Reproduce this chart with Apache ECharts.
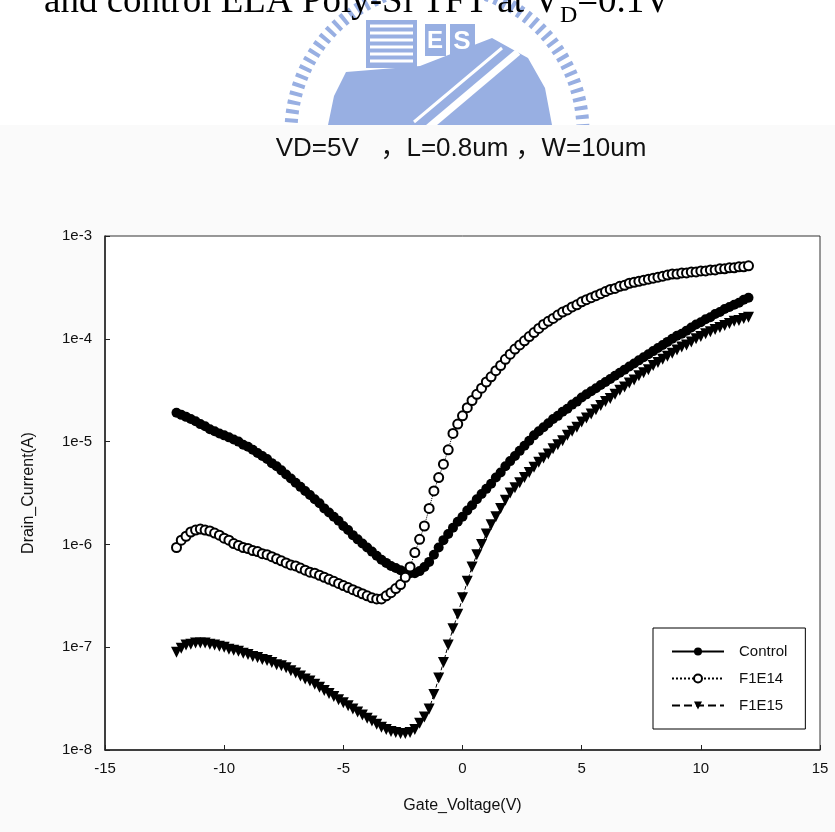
<!DOCTYPE html>
<html>
<head>
<meta charset="utf-8">
<script src="https://cdn.jsdelivr.net/npm/echarts@6.0.0/dist/echarts.min.js"></script>
<style>
  html, body { margin: 0; padding: 0; background: #fff; }
  #chart { width: 835px; height: 832px; }
</style>
</head>
<body>
<div id="chart"></div>
<script>
// gate voltage sweep (V)
var gateV = [-12,-11.8,-11.6,-11.4,-11.2,-11,-10.8,-10.6,-10.4,-10.2,
  -10,-9.8,-9.6,-9.4,-9.2,-9,-8.8,-8.6,-8.4,-8.2,
  -8,-7.8,-7.6,-7.4,-7.2,-7,-6.8,-6.6,-6.4,-6.2,
  -6,-5.8,-5.6,-5.4,-5.2,-5,-4.8,-4.6,-4.4,-4.2,
  -4,-3.8,-3.6,-3.4,-3.2,-3,-2.8,-2.6,-2.4,-2.2,
  -2,-1.8,-1.6,-1.4,-1.2,-1,-0.8,-0.6,-0.4,-0.2,
  0,0.2,0.4,0.6,0.8,1,1.2,1.4,1.6,1.8,
  2,2.2,2.4,2.6,2.8,3,3.2,3.4,3.6,3.8,
  4,4.2,4.4,4.6,4.8,5,5.2,5.4,5.6,5.8,
  6,6.2,6.4,6.6,6.8,7,7.2,7.4,7.6,7.8,
  8,8.2,8.4,8.6,8.8,9,9.2,9.4,9.6,9.8,
  10,10.2,10.4,10.6,10.8,11,11.2,11.4,11.6,11.8,
  12];

// drain current (A)
var control = [1.91e-5,1.82e-5,1.74e-5,1.66e-5,1.58e-5,1.48e-5,1.41e-5,1.32e-5,1.26e-5,1.20e-5,
  1.15e-5,1.10e-5,1.05e-5,1.00e-5,9.33e-6,8.91e-6,8.32e-6,7.76e-6,7.24e-6,6.76e-6,
  6.17e-6,5.75e-6,5.25e-6,4.79e-6,4.37e-6,3.98e-6,3.63e-6,3.31e-6,3.02e-6,2.75e-6,
  2.51e-6,2.24e-6,2.04e-6,1.86e-6,1.70e-6,1.51e-6,1.38e-6,1.23e-6,1.12e-6,1.02e-6,
  9.33e-7,8.51e-7,7.76e-7,7.08e-7,6.61e-7,6.17e-7,5.89e-7,5.62e-7,5.37e-7,5.25e-7,
  5.25e-7,5.50e-7,6.03e-7,6.76e-7,7.94e-7,9.33e-7,1.10e-6,1.26e-6,1.45e-6,1.66e-6,
  1.86e-6,2.14e-6,2.40e-6,2.75e-6,3.09e-6,3.47e-6,3.89e-6,4.47e-6,5.01e-6,5.75e-6,
  6.46e-6,7.24e-6,8.13e-6,9.12e-6,1.02e-5,1.15e-5,1.26e-5,1.38e-5,1.51e-5,1.66e-5,
  1.78e-5,1.95e-5,2.09e-5,2.29e-5,2.45e-5,2.69e-5,2.88e-5,3.09e-5,3.31e-5,3.55e-5,
  3.80e-5,4.07e-5,4.37e-5,4.68e-5,5.01e-5,5.37e-5,5.75e-5,6.17e-5,6.61e-5,7.08e-5,
  7.59e-5,8.13e-5,8.71e-5,9.33e-5,1.00e-4,1.07e-4,1.12e-4,1.20e-4,1.29e-4,1.38e-4,
  1.45e-4,1.55e-4,1.62e-4,1.74e-4,1.82e-4,1.95e-4,2.04e-4,2.14e-4,2.24e-4,2.40e-4,
  2.51e-4];

var f1e14 = [9.33e-7,1.10e-6,1.20e-6,1.32e-6,1.38e-6,1.41e-6,1.38e-6,1.35e-6,1.29e-6,1.23e-6,
  1.15e-6,1.10e-6,1.02e-6,9.77e-7,9.33e-7,9.12e-7,8.71e-7,8.51e-7,8.13e-7,7.94e-7,
  7.59e-7,7.24e-7,6.92e-7,6.61e-7,6.31e-7,6.17e-7,5.89e-7,5.62e-7,5.37e-7,5.25e-7,
  5.01e-7,4.79e-7,4.57e-7,4.37e-7,4.17e-7,3.98e-7,3.80e-7,3.63e-7,3.47e-7,3.31e-7,
  3.16e-7,3.02e-7,2.95e-7,2.95e-7,3.16e-7,3.39e-7,3.72e-7,4.07e-7,4.79e-7,6.03e-7,
  8.32e-7,1.12e-6,1.51e-6,2.24e-6,3.31e-6,4.47e-6,6.03e-6,8.32e-6,1.20e-5,1.48e-5,
  1.78e-5,2.14e-5,2.51e-5,2.88e-5,3.31e-5,3.80e-5,4.27e-5,4.90e-5,5.50e-5,6.31e-5,
  7.08e-5,7.94e-5,8.71e-5,9.55e-5,1.05e-4,1.15e-4,1.26e-4,1.38e-4,1.48e-4,1.58e-4,
  1.70e-4,1.82e-4,1.91e-4,2.04e-4,2.14e-4,2.29e-4,2.40e-4,2.51e-4,2.63e-4,2.75e-4,
  2.88e-4,3.02e-4,3.09e-4,3.24e-4,3.31e-4,3.47e-4,3.55e-4,3.63e-4,3.72e-4,3.80e-4,
  3.89e-4,3.98e-4,4.07e-4,4.17e-4,4.27e-4,4.27e-4,4.37e-4,4.37e-4,4.47e-4,4.47e-4,
  4.57e-4,4.57e-4,4.68e-4,4.68e-4,4.79e-4,4.79e-4,4.90e-4,4.90e-4,5.01e-4,5.01e-4,
  5.13e-4];

var f1e15 = [8.91e-8,9.77e-8,1.05e-7,1.07e-7,1.10e-7,1.10e-7,1.10e-7,1.07e-7,1.05e-7,1.02e-7,
  1.00e-7,9.55e-8,9.33e-8,9.12e-8,8.71e-8,8.51e-8,8.13e-8,7.94e-8,7.59e-8,7.41e-8,
  7.08e-8,6.76e-8,6.61e-8,6.31e-8,5.89e-8,5.62e-8,5.25e-8,4.90e-8,4.68e-8,4.37e-8,
  4.07e-8,3.80e-8,3.55e-8,3.31e-8,3.09e-8,2.88e-8,2.69e-8,2.51e-8,2.34e-8,2.19e-8,
  2.04e-8,1.91e-8,1.78e-8,1.66e-8,1.58e-8,1.51e-8,1.48e-8,1.45e-8,1.45e-8,1.48e-8,
  1.58e-8,1.82e-8,2.09e-8,2.51e-8,3.47e-8,5.01e-8,7.08e-8,1.05e-7,1.51e-7,2.09e-7,
  3.02e-7,4.37e-7,6.03e-7,7.94e-7,1.00e-6,1.26e-6,1.55e-6,1.86e-6,2.24e-6,2.69e-6,
  3.16e-6,3.55e-6,3.98e-6,4.47e-6,5.01e-6,5.62e-6,6.31e-6,6.92e-6,7.59e-6,8.51e-6,
  9.33e-6,1.02e-5,1.15e-5,1.26e-5,1.38e-5,1.55e-5,1.70e-5,1.86e-5,2.04e-5,2.24e-5,
  2.45e-5,2.63e-5,2.88e-5,3.16e-5,3.39e-5,3.72e-5,3.98e-5,4.37e-5,4.68e-5,5.01e-5,
  5.50e-5,5.89e-5,6.31e-5,6.76e-5,7.24e-5,7.76e-5,8.32e-5,8.71e-5,9.33e-5,1.00e-4,
  1.05e-4,1.12e-4,1.17e-4,1.23e-4,1.29e-4,1.35e-4,1.41e-4,1.48e-4,1.51e-4,1.58e-4,
  1.62e-4];

var seriesNames = ['Control', 'F1E14', 'F1E15'];
var xTicks = { min: -15, max: 15, step: 5 };

(function() {
  var ink = '#111';
  var logoBlue = '#98afe2';
  var sans = '"Liberation Sans", Arial, "Noto Sans CJK SC", sans-serif';
  var serif = '"Liberation Serif", "Times New Roman", serif';

  function pairs(ys) {
    return gateV.map(function(v, i) { return [v, ys[i]]; });
  }

  // header line, subscript placed after measuring
  var ctx = document.createElement('canvas').getContext('2d');
  var head1 = 'and control ELA Poly-Si TFT at V';
  ctx.font = '37px ' + serif;
  var w1 = ctx.measureText(head1).width;
  ctx.font = '24px ' + serif;
  var w2 = ctx.measureText('D').width;
  var headX = 44;

  var logo = [
    { type: 'circle', z: -30, shape: { cx: 437, cy: 132, r: 146 },
      style: { fill: 'none', stroke: logoBlue, lineWidth: 13, lineDash: [4, 5] } },
    { type: 'polygon', z: -29, shape: { points: [[328,125],[334,96],[346,72],[420,66],[492,38],[528,58],[545,88],[552,125]] },
      style: { fill: logoBlue } },
    { type: 'rect', z: -28, shape: { x: 366, y: 20, width: 51, height: 48 }, style: { fill: logoBlue } },
    { type: 'rect', z: -28, shape: { x: 425, y: 24, width: 21, height: 32 }, style: { fill: logoBlue } },
    { type: 'rect', z: -28, shape: { x: 450, y: 24, width: 25, height: 34 }, style: { fill: logoBlue } },
    { type: 'text', z: -27, style: { text: 'E', x: 435, y: 41, fill: '#fff', font: 'bold 24px ' + sans, align: 'center', verticalAlign: 'middle' } },
    { type: 'text', z: -27, style: { text: 'S', x: 462, y: 42, fill: '#fff', font: 'bold 26px ' + sans, align: 'center', verticalAlign: 'middle' } },
    { type: 'line', z: -27, shape: { x1: 518, y1: 52, x2: 428, y2: 128 }, style: { stroke: '#fff', lineWidth: 7 } },
    { type: 'line', z: -27, shape: { x1: 502, y1: 48, x2: 414, y2: 122 }, style: { stroke: '#fff', lineWidth: 3 } }
  ];
  [26, 33, 40, 47, 54, 61].forEach(function(y) {
    logo.push({ type: 'line', z: -27, shape: { x1: 370, y1: y, x2: 413, y2: y }, style: { stroke: '#fff', lineWidth: 3 } });
  });

  var chart = echarts.init(document.getElementById('chart'), null, { renderer: 'canvas' });
  chart.setOption({
    animation: false,
    backgroundColor: '#fff',
    graphic: logo.concat([
      { type: 'rect', z: -10, shape: { x: 0, y: 125, width: 835, height: 707 }, style: { fill: '#fafafa' } },
      { type: 'text', z: 5, style: { text: head1, x: headX, y: 2, fill: '#000', font: '37px ' + serif, verticalAlign: 'middle' } },
      { type: 'text', z: 5, style: { text: 'D', x: headX + w1, y: 16, fill: '#000', font: '24px ' + serif, verticalAlign: 'middle' } },
      { type: 'text', z: 5, style: { text: '=0.1V', x: headX + w1 + w2, y: 2, fill: '#000', font: '37px ' + serif, verticalAlign: 'middle' } },
      { type: 'text', z: 5, style: { text: 'VD=5V   \uff0cL=0.8um \uff0cW=10um', x: 461, y: 149, fill: ink, font: '26px ' + sans, align: 'center', verticalAlign: 'middle' } }
    ]),
    grid: {
      left: 105, right: 15, top: 236, bottom: 82,
      show: true, backgroundColor: '#fff', borderColor: '#333', borderWidth: 1
    },
    legend: {
      data: seriesNames,
      orient: 'vertical',
      left: 653, top: 628,
      backgroundColor: '#fff',
      borderColor: '#000', borderWidth: 1,
      padding: [16, 18, 16, 18],
      itemWidth: 52, itemHeight: 10, itemGap: 12,
      textStyle: { fontSize: 15, color: ink, fontFamily: sans, padding: [0, 0, 0, 10] }
    },
    xAxis: {
      type: 'value',
      min: xTicks.min, max: xTicks.max, interval: xTicks.step,
      name: 'Gate_Voltage(V)', nameLocation: 'middle', nameGap: 48,
      nameTextStyle: { fontSize: 16, color: ink, fontFamily: sans },
      axisLine: { show: true, onZero: false, lineStyle: { color: '#222', width: 1.5 } },
      axisTick: { show: true, inside: true, length: 5, lineStyle: { color: '#222' } },
      axisLabel: { fontSize: 15, color: ink, fontFamily: sans, margin: 11 },
      splitLine: { show: false }
    },
    yAxis: {
      type: 'log', logBase: 10, min: 1e-8, max: 1e-3,
      name: 'Drain_Current(A)', nameLocation: 'middle', nameGap: 68,
      nameTextStyle: { fontSize: 16, color: ink, fontFamily: sans },
      axisLine: { show: true, onZero: false, lineStyle: { color: '#222', width: 1.5 } },
      axisTick: { show: true, inside: true, length: 5, lineStyle: { color: '#222' } },
      axisLabel: {
        fontSize: 15, color: ink, fontFamily: sans, margin: 13,
        formatter: function(v) { return '1e' + Math.round(Math.log10(v)); }
      },
      splitLine: { show: false },
      minorTick: { show: false }
    },
    series: [
      {
        name: seriesNames[0], type: 'line', data: pairs(control),
        symbol: 'circle', symbolSize: 10, showAllSymbol: true,
        itemStyle: { color: '#000' },
        lineStyle: { color: '#000', width: 1, type: 'solid' }
      },
      {
        name: seriesNames[1], type: 'line', data: pairs(f1e14),
        symbol: 'emptyCircle', symbolSize: 9, showAllSymbol: true,
        itemStyle: { color: '#000', borderColor: '#000', borderWidth: 1.2 },
        lineStyle: { color: '#000', width: 1, type: 'dotted' }
      },
      {
        name: seriesNames[2], type: 'line', data: pairs(f1e15),
        symbol: 'triangle', symbolRotate: 180, symbolSize: 11, showAllSymbol: true,
        itemStyle: { color: '#000' },
        lineStyle: { color: '#000', width: 1, type: 'dashed' }
      }
    ]
  });
})();
</script>
</body>
</html>
